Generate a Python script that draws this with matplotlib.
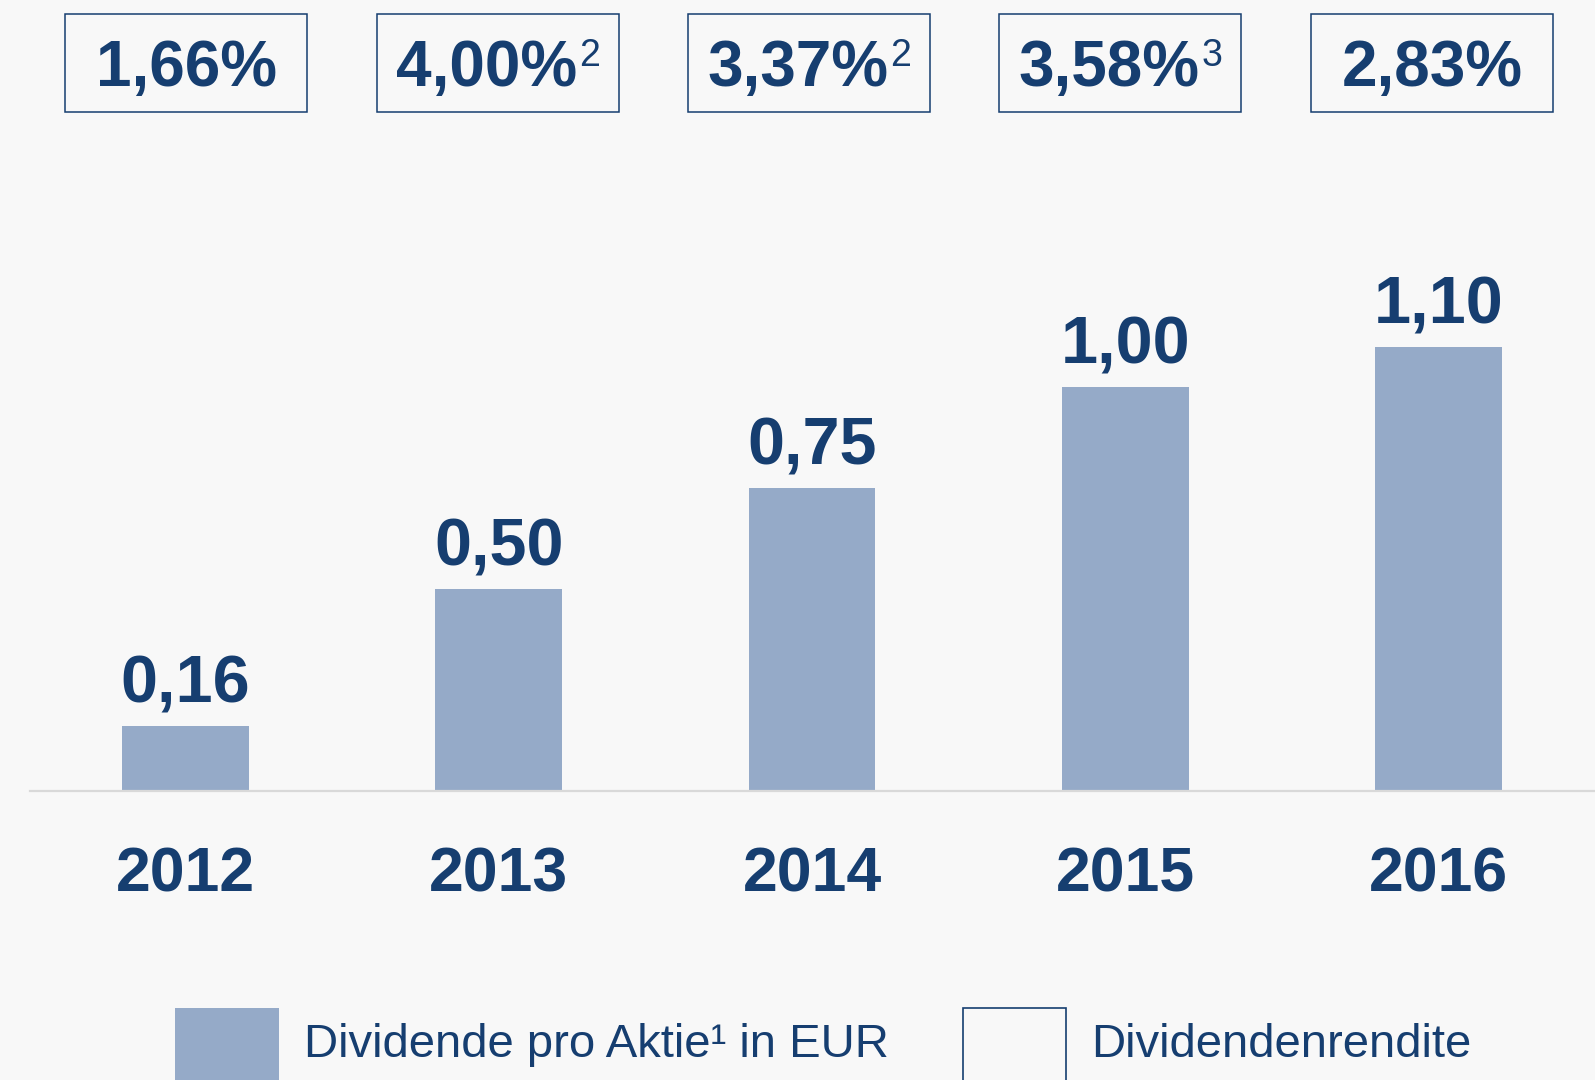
import matplotlib
matplotlib.use("Agg")
import matplotlib.pyplot as plt
from matplotlib.patches import Rectangle
from matplotlib.transforms import blended_transform_factory

plt.rcParams["font.family"] = ["Liberation Sans", "DejaVu Sans"]

years = ["2012", "2013", "2014", "2015", "2016"]
dividend = [0.16, 0.50, 0.75, 1.00, 1.10]
yields = ["1,66", "4,00", "3,37", "3,58", "2,83"]
footnotes = ["", "2", "2", "3", ""]
legend_labels = ["Dividende pro Aktie\u00b9 in EUR", "Dividendenrendite"]

BG = "#f8f8f8"
BAR = "#95aac8"
INK = "#163e70"
GRID = "#d9d9d9"

W, H = 1595, 1080
fig = plt.figure(figsize=(W / 100, H / 100), dpi=100, facecolor=BG)
ax = fig.add_axes([30 / W, (H - 791) / H, 1 - 30 / W, 525 / H])
ax.set_facecolor(BG)

x = list(range(len(years)))
bars = ax.bar(x, dividend, width=0.405, color=BAR, zorder=2)
ax.set_xlim(-0.497, 4.5)
ax.set_ylim(0, 1.3)

ax.bar_label(bars, labels=[f"{v:.2f}".replace(".", ",") for v in dividend],
             padding=7, fontsize=48, fontweight="bold", color=INK)

for s in ("top", "left", "right"):
    ax.spines[s].set_visible(False)
ax.spines["bottom"].set_color(GRID)
ax.spines["bottom"].set_linewidth(1.6)
ax.set_yticks([])
ax.set_xticks(x)
ax.set_xticklabels(years, fontsize=45, fontweight="bold", color=INK)
for lbl in ax.get_xticklabels():
    lbl.set_verticalalignment("baseline")
ax.tick_params(axis="x", length=0, pad=72)

# yield boxes above the bars (slightly tighter spacing than the bars)
tr = blended_transform_factory(ax.transData, fig.transFigure)
bw = 242 / 313.3
box_x = [0.0016 + 0.9943 * i for i in x]
mains, sups = [], []
for bx, yv, fn in zip(box_x, yields, footnotes):
    ax.add_patch(Rectangle((bx - bw / 2, (H - 112) / H), bw, 98 / H, transform=tr,
                           facecolor="none", edgecolor=INK, lw=1.1, clip_on=False))
    t = ax.text(bx, (H - 86) / H, yv + "%", transform=tr, ha="center",
                va="baseline", fontsize=46, fontweight="bold", color=INK)
    s = fig.text(0, (H - 66) / H, fn, ha="left", va="baseline", fontsize=27,
                 color=INK) if fn else None
    mains.append((bx, t))
    sups.append(s)

# centre "value% + footnote" as one unit inside each box
fig.canvas.draw()
r = fig.canvas.get_renderer()
px_unit = ax.transData.transform((1, 0))[0] - ax.transData.transform((0, 0))[0]
for (bx, t), s in zip(mains, sups):
    if s is None:
        continue
    mw = t.get_window_extent(r).width
    sw = s.get_window_extent(r).width
    gap = 2
    cx = ax.transData.transform((bx, 0))[0]
    shift = (gap + sw) / 2
    t.set_x(bx - shift / px_unit)
    s.set_x((cx - shift + mw / 2 + gap) / W)

# legend keys at bottom (cut off by the figure edge, as in the source)
fig.patches.append(Rectangle((175 / W, 0), 104 / W, 72 / H, transform=fig.transFigure,
                             facecolor=BAR, edgecolor="none"))
fig.patches.append(Rectangle((963 / W, -0.01), 103 / W, 72 / H + 0.01,
                             transform=fig.transFigure, facecolor="none",
                             edgecolor=INK, lw=1.2))
fig.text(304 / W, (H - 1045) / H, legend_labels[0], ha="left", va="center",
         fontsize=34, color=INK)
fig.text(1091 / W, (H - 1045) / H, legend_labels[1], ha="left", va="center",
         fontsize=34, color=INK)

fig.savefig("out.png", dpi=100, facecolor=BG)
